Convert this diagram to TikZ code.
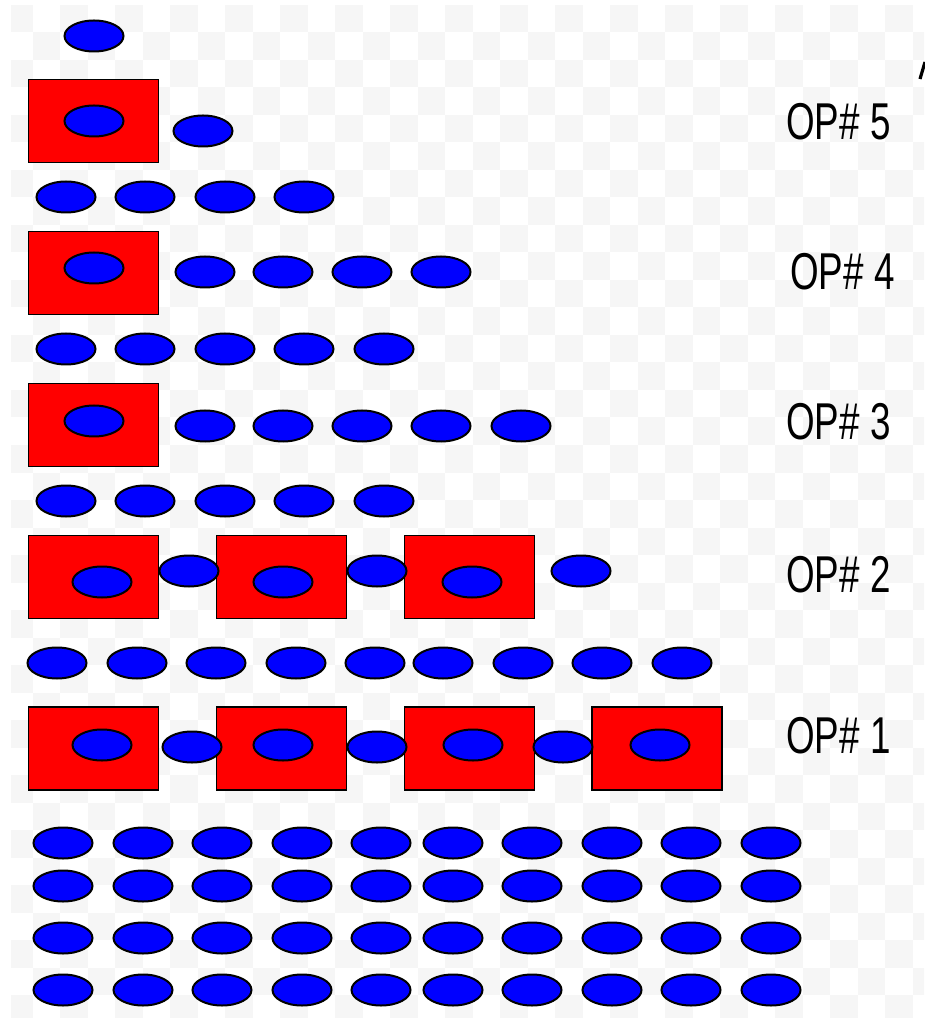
\documentclass[tikz,border=0pt]{standalone}
\usepackage{fontspec}
\setmainfont{Liberation Sans}
\usetikzlibrary{shapes.geometric}
\definecolor{chk}{RGB}{246,246,246}
\definecolor{opred}{RGB}{255,0,0}
\definecolor{tokblue}{RGB}{0,0,255}
\tikzset{
  opbox/.style={rectangle,draw=black,fill=opred,line width=0.9pt,minimum width=65pt,minimum height=41.5pt,inner sep=0pt},
  tok/.style={ellipse,draw=black,fill=tokblue,line width=1pt,minimum width=29.5pt,minimum height=15.5pt,inner sep=0pt},
  oplabel/.style={anchor=base west,inner sep=0pt,xscale=0.71,font=\fontsize{25.9}{30}\selectfont}
}
\begin{document}
\begin{tikzpicture}[x=0.5pt,y=-0.5pt]
\useasboundingbox (0,0) rectangle (924,1020);
\fill[white] (0,0) rectangle (924,1020);
% faint checkerboard background
\begin{scope}
\clip (11,5) rectangle (924,1017);
\foreach \i in {0,...,33}{\foreach \j in {0,...,37}{
  \pgfmathtruncatemacro\chkpar{mod(\i+\j,2)}
  \ifnum\chkpar=0 \fill[chk] ({5+27.5*\i},{5+27.5*\j}) rectangle ++(27.5,27.5);\fi
}}
\end{scope}
% top token
\node[tok] (t0) at (94,36) {};
% OP 5
\node[opbox] (r5a) at (93.5,121) {};
\node[tok] (i5a) at (94,121) {};
\node[tok] (s5a) at (203,131) {};
\node[oplabel] (l5) at (786,140) {OP\# 5};
% row
\foreach \x [count=\k] in {66,145,225,304}{\node[tok] (w4\k) at (\x,197) {};}
% OP 4
\node[opbox] (r4a) at (93.5,273) {};
\node[tok] (i4a) at (94,268) {};
\foreach \x [count=\k] in {205,283,362,441}{\node[tok] (s4\k) at (\x,272) {};}
\node[oplabel] (l4) at (790,290) {OP\# 4};
% row
\foreach \x [count=\k] in {66,145,225,304,384}{\node[tok] (w3\k) at (\x,349) {};}
% OP 3
\node[opbox] (r3a) at (93.5,425) {};
\node[tok] (i3a) at (94,421) {};
\foreach \x [count=\k] in {205,283,362,441,521}{\node[tok] (s3\k) at (\x,426) {};}
\node[oplabel] (l3) at (786,440) {OP\# 3};
% row
\foreach \x [count=\k] in {66,145,225,304,384}{\node[tok] (w2\k) at (\x,501) {};}
% OP 2
\foreach \x/\n in {93.5/a,281.5/b,469.5/c}{\node[opbox] (r2\n) at (\x,577) {};}
\foreach \x/\n in {102/a,283/b,472/c}{\node[tok] (i2\n) at (\x,582) {};}
\foreach \x [count=\k] in {189,377,581}{\node[tok] (s2\k) at (\x,571) {};}
\node[oplabel] (l2) at (786,592) {OP\# 2};
% row
\foreach \x [count=\k] in {57,137,216,296,375,443,523,602,682}{\node[tok] (w1\k) at (\x,663) {};}
% OP 1
\foreach \x/\n in {93.5/a,281.5/b,469.5/c,657/d}{\node[opbox] (r1\n) at (\x,748.5) {};}
\foreach \x/\n in {102/a,283/b,473/c,660/d}{\node[tok] (i1\n) at (\x,745) {};}
\foreach \x [count=\k] in {192,377,563}{\node[tok] (s1\k) at (\x,747) {};}
\node[oplabel] (l1) at (786,753) {OP\# 1};
% bottom grid
\foreach \y [count=\r] in {843,886,938,990}{
  \foreach \x [count=\k] in {63,143,222,302,381,453,532,612,691,771}{
    \node[tok] (g\r-\k) at (\x,\y) {};
  }
}
% cropped mark at the top right
\draw[line width=1.6pt] (925,62) -- (920,79);
\end{tikzpicture}
\end{document}
